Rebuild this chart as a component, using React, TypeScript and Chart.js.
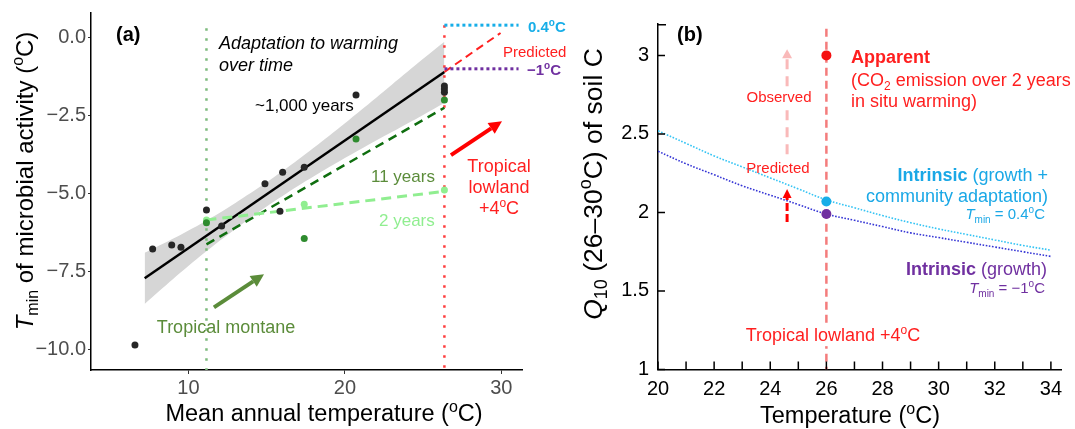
import React, { useEffect, useRef } from 'react';
import { Chart, registerables } from 'chart.js';
Chart.register(...registerables);

const FONT = "'Liberation Sans', Arial, Helvetica, sans-serif";

// ---------------- Panel (a) data ----------------
const aXTicks = [10, 20, 30];
const aYTicks = [-10, -7.5, -5, -2.5, 0];
const montaneMAT = 11.15;
const lowlandMAT = 26.36;
const kyrX = [6.58, 7.71, 8.93, 9.52, 11.15, 12.12, 14.89, 15.85, 16.02, 17.4, 20.71, 26.36, 26.36, 26.36];
const kyrY = [-9.86, -6.78, -6.65, -6.72, -5.53, -6.04, -4.69, -5.57, -4.32, -4.16, -1.84, -1.55, -1.65, -1.75];
const yr11X = [11.15, 17.4, 20.71, 26.36];
const yr11Y = [-5.94, -6.44, -3.25, -2.0];
const yr2X = [11.15, 17.4, 26.36];
const yr2Y = [-5.85, -5.34, -4.89];
const fitX = [7.2, 26.36];
const fitY = [-7.72, -1.1];
const bandX = [7.2, 9, 11, 13, 15, 17, 19, 21, 23, 25, 26.36];
const bandHi = [-6.9, -6.45, -5.91, -5.3, -4.64, -3.92, -3.15, -2.34, -1.51, -0.68, -0.13];
const bandLo = [-8.54, -7.75, -6.91, -6.14, -5.42, -4.76, -4.15, -3.58, -3.03, -2.48, -2.1];
const fit11X = [11.15, 26.36];
const fit11Y = [-6.63, -2.25];
const fit2X = [11.15, 26.36];
const fit2Y = [-5.85, -4.93];
const predX = [26.36, 29.95];
const predY = [-1.1, 0.15];
const tminAdapt = 0.4;
const tminGrowth = -1.0;
const tminLineX = [26.36, 31.1];
const montaneArrow = [[11.63, -8.65], [14.83, -7.59]];
const lowlandArrow = [[26.78, -3.77], [30.04, -2.68]];

// ---------------- Panel (b) data ----------------
const bTemps = [20, 21, 22, 23, 24, 25, 26, 27, 28, 29, 30, 31, 32, 33, 34];
const q10Adapt = [2.52, 2.44, 2.36, 2.29, 2.22, 2.15, 2.08, 2.03, 1.98, 1.935, 1.895, 1.86, 1.825, 1.79, 1.76];
const q10Growth = [2.39, 2.31, 2.24, 2.17, 2.11, 2.05, 1.99, 1.95, 1.91, 1.87, 1.84, 1.81, 1.78, 1.75, 1.72];
const bYTicks = [1, 1.5, 2, 2.5, 3];
const siteT = 26;
const q10Apparent = 3.0;
const q10IntrAdapt = 2.07;
const q10IntrGrowth = 1.99;
const arrowT = 24.6;
const predictedArrow = [1.94, 2.15];
const observedArrow = [2.37, 3.04];

// ---------------- colours ----------------
const BAND = '#d6d6d6';
const BLACKPT = '#262626';
const DKGREEN_PT = '#2e8b2e';
const DKGREEN_LINE = '#0f6e0f';
const LTGREEN = '#90ee90';
const OLIVE = '#5b8c3a';
const GREEN_VLINE = '#7dbb7d';
const RED = '#ff1f1f';
const CYAN = '#17aee8';
const PURPLE = '#7030a0';

type Seg = { t: string; b?: boolean; i?: boolean; sup?: boolean; sub?: boolean; c?: string };

function drawRich(ctx: CanvasRenderingContext2D, segs: Seg[], x: number, y: number, size: number, color: string, align: 'left' | 'center' | 'right', bg?: string) {
  const font = (s: Seg) => `${s.i ? 'italic ' : ''}${s.b ? 'bold ' : ''}${s.sup || s.sub ? Math.round(size * 0.68) : size}px ${FONT}`;
  let w = 0;
  const widths = segs.map((s) => {
    ctx.font = font(s);
    const m = ctx.measureText(s.t).width;
    w += m;
    return m;
  });
  let x0 = align === 'left' ? x : align === 'center' ? x - w / 2 : x - w;
  const base = y + size * 0.36;
  ctx.save();
  if (bg) {
    ctx.fillStyle = bg;
    ctx.fillRect(x0 - 3, y - size * 0.62, w + 6, size * 1.24);
  }
  ctx.textBaseline = 'alphabetic';
  ctx.textAlign = 'left';
  segs.forEach((s, k) => {
    ctx.font = font(s);
    ctx.fillStyle = s.c || color;
    const dy = s.sup ? -size * 0.4 : s.sub ? size * 0.22 : 0;
    ctx.fillText(s.t, x0, base + dy);
    x0 += widths[k];
  });
  ctx.restore();
}

function drawArrow(ctx: CanvasRenderingContext2D, x1: number, y1: number, x2: number, y2: number, color: string, lw: number, headL: number, headW: number, dash?: number[]) {
  const ang = Math.atan2(y2 - y1, x2 - x1);
  const bx = x2 - headL * Math.cos(ang);
  const by = y2 - headL * Math.sin(ang);
  ctx.save();
  ctx.strokeStyle = color;
  ctx.lineWidth = lw;
  ctx.setLineDash(dash || []);
  ctx.beginPath();
  ctx.moveTo(x1, y1);
  ctx.lineTo(bx, by);
  ctx.stroke();
  ctx.setLineDash([]);
  ctx.fillStyle = color;
  ctx.beginPath();
  ctx.moveTo(x2, y2);
  ctx.lineTo(bx + (headW / 2) * Math.sin(ang), by - (headW / 2) * Math.cos(ang));
  ctx.lineTo(bx - (headW / 2) * Math.sin(ang), by + (headW / 2) * Math.cos(ang));
  ctx.closePath();
  ctx.fill();
  ctx.restore();
}

const pts = (xs: number[], ys: number[]) => xs.map((x, i) => ({ x, y: ys[i] }));

function withOrder(list: any[]) {
  const n = list.length;
  return list.map((d, i) => ({ ...d, order: n - i }));
}

function configA(): any {
  const line = (data: any, color: string, width: number, dash: number[] = []) => ({
    data, borderColor: color, borderWidth: width, borderDash: dash, pointRadius: 0, fill: false, tension: 0,
  });
  const dots = (data: any, color: string, r: number) => ({
    data, showLine: false, pointRadius: r, pointBackgroundColor: color, pointBorderWidth: 0, pointBorderColor: color,
  });
  const datasets = withOrder([
    { data: pts(bandX, bandHi), borderColor: 'rgba(0,0,0,0)', borderWidth: 0, pointRadius: 0, fill: false, backgroundColor: BAND, tension: 0.3 },
    { data: pts(bandX, bandLo), borderColor: 'rgba(0,0,0,0)', borderWidth: 0, pointRadius: 0, fill: '-1', backgroundColor: BAND, tension: 0.3 },
    line([{ x: montaneMAT, y: 0.3 }, { x: montaneMAT, y: -10.66 }], GREEN_VLINE, 2.5, [2.5, 7.5]),
    line([{ x: lowlandMAT, y: tminAdapt }, { x: lowlandMAT, y: -10.66 }], '#ff3c3c', 2.5, [2.5, 7.5]),
    line(pts(fitX, fitY), '#000', 2.5),
    line(pts(fit11X, fit11Y), DKGREEN_LINE, 2.5, [9, 6]),
    line(pts(fit2X, fit2Y), LTGREEN, 3, [10, 6]),
    line(pts(predX, predY), RED, 2, [8, 5]),
    line(tminLineX.map((x) => ({ x, y: tminAdapt })), CYAN, 3, [3, 3]),
    line(tminLineX.map((x) => ({ x, y: tminGrowth })), PURPLE, 3, [3, 3]),
    dots(pts(yr2X, yr2Y), LTGREEN, 3.5),
    dots(pts(yr11X, yr11Y), DKGREEN_PT, 3.5),
    dots(pts(kyrX, kyrY), BLACKPT, 3.5),
  ]);

  const plugin = {
    id: 'decorA',
    afterDatasetsDraw(chart: any) {
      const { ctx, scales } = chart;
      const X = (v: number) => scales.x.getPixelForValue(v);
      const Y = (v: number) => scales.y.getPixelForValue(v);
      drawArrow(ctx, X(montaneArrow[0][0]), Y(montaneArrow[0][1]), X(montaneArrow[1][0]), Y(montaneArrow[1][1]), OLIVE, 4, 13, 13);
      drawArrow(ctx, X(lowlandArrow[0][0]), Y(lowlandArrow[0][1]), X(lowlandArrow[1][0]), Y(lowlandArrow[1][1]), '#ff0000', 4, 13, 13);
    },
    afterDraw(chart: any) {
      const { ctx } = chart;
      drawRich(ctx, [{ t: '(a)', b: true }], 116, 34, 20, '#000', 'left');
      drawRich(ctx, [{ t: 'Adaptation to warming', i: true }], 219, 43, 18, '#000', 'left');
      drawRich(ctx, [{ t: 'over time', i: true }], 219, 65, 18, '#000', 'left');
      drawRich(ctx, [{ t: '~1,000 years' }], 255, 105, 17, '#000', 'left');
      drawRich(ctx, [{ t: '11 years' }], 371, 176, 17, OLIVE, 'left');
      drawRich(ctx, [{ t: '2 years' }], 379, 220, 17, LTGREEN, 'left');
      drawRich(ctx, [{ t: 'Tropical montane' }], 226, 327, 18, OLIVE, 'center');
      drawRich(ctx, [{ t: 'Tropical' }], 499, 166, 18, RED, 'center');
      drawRich(ctx, [{ t: 'lowland' }], 499, 187, 18, RED, 'center');
      drawRich(ctx, [{ t: '+4' }, { t: 'o', sup: true }, { t: 'C' }], 499, 208, 18, RED, 'center');
      drawRich(ctx, [{ t: '0.4', b: true }, { t: 'o', b: true, sup: true }, { t: 'C', b: true }], 528, 27, 15, CYAN, 'left');
      drawRich(ctx, [{ t: 'Predicted' }], 503, 52, 15, RED, 'left');
      drawRich(ctx, [{ t: '\u22121', b: true }, { t: 'o', b: true, sup: true }, { t: 'C', b: true }], 527, 70, 15, PURPLE, 'left');
      drawRich(ctx, [{ t: 'Mean annual temperature (' }, { t: 'o', sup: true }, { t: 'C)' }], 324, 413, 23.5, '#000', 'center');
      ctx.save();
      ctx.translate(24, 181);
      ctx.rotate(-Math.PI / 2);
      drawRich(ctx, [{ t: 'T', i: true }, { t: 'min', sub: true }, { t: ' of microbial activity (' }, { t: 'o', sup: true }, { t: 'C)' }], 0, 0, 24, '#000', 'center');
      ctx.restore();
    },
  };

  return {
    type: 'line',
    data: { datasets },
    plugins: [plugin],
    options: {
      responsive: false,
      animation: false,
      layout: { padding: { left: 0, top: 13, right: 58, bottom: 0 } },
      plugins: { legend: { display: false }, tooltip: { enabled: false } },
      scales: {
        x: {
          type: 'linear', min: 3.77, max: 31.32,
          afterBuildTicks: (s: any) => { s.ticks = aXTicks.map((v) => ({ value: v })); },
          afterFit: (s: any) => { s.height = 59; s.paddingLeft = 0; s.paddingRight = 0; },
          grid: { display: true, drawOnChartArea: false, drawTicks: true, tickLength: 4, tickColor: '#333', tickWidth: 1 },
          border: { display: true, color: '#000', width: 1.5 },
          ticks: { font: { family: FONT, size: 20 }, color: '#4d4d4d', padding: 2, maxRotation: 0, autoSkip: false, callback: (v: number) => String(v) },
        },
        y: {
          type: 'linear', min: -10.66, max: 0.79,
          afterBuildTicks: (s: any) => { s.ticks = aYTicks.map((v) => ({ value: v })); },
          afterFit: (s: any) => { s.width = 91; s.paddingTop = 0; s.paddingBottom = 0; },
          grid: { display: true, drawOnChartArea: false, drawTicks: true, tickLength: 3, tickColor: '#333', tickWidth: 1 },
          border: { display: true, color: '#000', width: 1.5 },
          ticks: { font: { family: FONT, size: 20 }, color: '#4d4d4d', padding: 2, autoSkip: false, callback: (v: number) => v.toFixed(1).replace('-', '\u2212') },
        },
      },
    },
  };
}

function configB(): any {
  const datasets = withOrder([
    { data: [{ x: siteT, y: 3.17 }, { x: siteT, y: 1 }], borderColor: '#f47c7c', borderWidth: 2.5, borderDash: [8, 5], pointRadius: 0, fill: false },
    { data: pts(bTemps, q10Adapt), borderColor: '#35c4f4', borderWidth: 1.6, borderDash: [1.6, 1.6], pointRadius: 0, fill: false, tension: 0.4 },
    { data: pts(bTemps, q10Growth), borderColor: '#3535d5', borderWidth: 1.6, borderDash: [1.6, 1.6], pointRadius: 0, fill: false, tension: 0.4 },
    { data: [{ x: siteT, y: q10IntrAdapt }], showLine: false, pointRadius: 5, pointBackgroundColor: CYAN, pointBorderWidth: 0 },
    { data: [{ x: siteT, y: q10IntrGrowth }], showLine: false, pointRadius: 5, pointBackgroundColor: PURPLE, pointBorderWidth: 0 },
    { data: [{ x: siteT, y: q10Apparent }], showLine: false, pointRadius: 5, pointBackgroundColor: '#f51010', pointBorderWidth: 0 },
  ]);

  const plugin = {
    id: 'decorB',
    afterDatasetsDraw(chart: any) {
      const { ctx, scales } = chart;
      const X = (v: number) => scales.x.getPixelForValue(v);
      const Y = (v: number) => scales.y.getPixelForValue(v);
      drawArrow(ctx, X(arrowT), Y(observedArrow[0]), X(arrowT), Y(observedArrow[1]), '#f9b9b9', 3, 9, 10, [10, 7]);
      drawArrow(ctx, X(arrowT), Y(predictedArrow[0]), X(arrowT), Y(predictedArrow[1]), '#ff0000', 3, 9, 9, [8, 3]);
    },
    afterDraw(chart: any) {
      const { ctx, scales, chartArea } = chart;
      const X = (v: number) => scales.x.getPixelForValue(v);
      const Y = (v: number) => scales.y.getPixelForValue(v);
      ctx.save();
      ctx.strokeStyle = '#000';
      ctx.lineWidth = 1.5;
      ctx.beginPath();
      bYTicks.forEach((v) => { ctx.moveTo(chartArea.left, Y(v)); ctx.lineTo(chartArea.left + 7, Y(v)); });
      ctx.moveTo(chartArea.left, chartArea.top + 0.75); ctx.lineTo(chartArea.left + 8, chartArea.top + 0.75);
      bTemps.forEach((v) => { ctx.moveTo(X(v), chartArea.bottom); ctx.lineTo(X(v), chartArea.bottom - 8); });
      ctx.stroke();
      ctx.restore();
      const ox = 580;
      drawRich(ctx, [{ t: '(b)', b: true }], 677 - ox, 34, 20, '#000', 'left');
      drawRich(ctx, [{ t: 'Apparent', b: true }], 851 - ox, 57, 18, RED, 'left');
      drawRich(ctx, [{ t: '(CO' }, { t: '2', sub: true }, { t: ' emission over 2 years' }], 851 - ox, 80, 18, RED, 'left');
      drawRich(ctx, [{ t: 'in situ warming)' }], 851 - ox, 101, 18, RED, 'left');
      drawRich(ctx, [{ t: 'Intrinsic', b: true }, { t: ' (growth +' }], 1048 - ox, 175, 18, '#1aa8e6', 'right');
      drawRich(ctx, [{ t: 'community adaptation)' }], 1048 - ox, 196, 18, '#1aa8e6', 'right');
      drawRich(ctx, [{ t: 'T', i: true }, { t: 'min', sub: true }, { t: ' = 0.4' }, { t: 'o', sup: true }, { t: 'C' }], 1045 - ox, 214, 15, '#1aa8e6', 'right');
      drawRich(ctx, [{ t: 'Intrinsic', b: true }, { t: ' (growth)' }], 1047 - ox, 269, 18, PURPLE, 'right');
      drawRich(ctx, [{ t: 'T', i: true }, { t: 'min', sub: true }, { t: ' = \u22121' }, { t: 'o', sup: true }, { t: 'C' }], 1045 - ox, 288, 15, PURPLE, 'right');
      drawRich(ctx, [{ t: 'Tropical lowland +4' }, { t: 'o', sup: true }, { t: 'C' }], 833 - ox, 335, 18, RED, 'center', '#fff');
      drawRich(ctx, [{ t: 'Observed' }], 779 - ox, 97, 15, RED, 'center', '#fff');
      drawRich(ctx, [{ t: 'Predicted' }], 778 - ox, 168, 15, RED, 'center');
      drawRich(ctx, [{ t: 'Temperature (' }, { t: 'o', sup: true }, { t: 'C)' }], 850 - ox, 415, 23.5, '#000', 'center');
      ctx.save();
      ctx.translate(592 - ox, 184);
      ctx.rotate(-Math.PI / 2);
      drawRich(ctx, [{ t: 'Q', i: true }, { t: '10', sub: true }, { t: ' (26\u201330' }, { t: 'o', sup: true }, { t: 'C) of soil C' }], 0, 0, 26.5, '#000', 'center');
      ctx.restore();
    },
  };

  return {
    type: 'line',
    data: { datasets },
    plugins: [plugin],
    options: {
      responsive: false,
      animation: false,
      layout: { padding: { left: 0, top: 24, right: 14, bottom: 0 } },
      plugins: { legend: { display: false }, tooltip: { enabled: false } },
      scales: {
        x: {
          type: 'linear', min: 20, max: 34.36,
          afterBuildTicks: (s: any) => { s.ticks = bTemps.map((v) => ({ value: v })); },
          afterFit: (s: any) => { s.height = 59.5; s.paddingLeft = 0; s.paddingRight = 0; },
          grid: { display: false, drawTicks: false },
          border: { display: true, color: '#000', width: 1.5 },
          ticks: { font: { family: FONT, size: 20 }, color: '#000', padding: 8, maxRotation: 0, autoSkip: false, callback: (v: number) => (v % 2 === 0 ? String(v) : '') },
        },
        y: {
          type: 'linear', min: 1, max: 3.2,
          afterBuildTicks: (s: any) => { s.ticks = bYTicks.map((v) => ({ value: v })); },
          afterFit: (s: any) => { s.width = 78; s.paddingTop = 0; s.paddingBottom = 0; },
          grid: { display: false, drawTicks: false },
          border: { display: true, color: '#000', width: 1.5 },
          ticks: { font: { family: FONT, size: 20 }, color: '#000', padding: 9, autoSkip: false, callback: (v: number) => String(v) },
        },
      },
    },
  };
}

export default function App() {
  const refA = useRef<HTMLCanvasElement>(null);
  const refB = useRef<HTMLCanvasElement>(null);
  useEffect(() => {
    const a = new Chart(refA.current as HTMLCanvasElement, configA());
    const b = new Chart(refB.current as HTMLCanvasElement, configB());
    return () => {
      a.destroy();
      b.destroy();
    };
  }, []);
  return (
    <div style={{ position: 'fixed', left: 0, top: 0, width: 1075, height: 429, background: '#fff' }}>
      <canvas ref={refA} width={580} height={429} style={{ position: 'absolute', left: 0, top: 0, width: 580, height: 429 }} />
      <canvas ref={refB} width={495} height={429} style={{ position: 'absolute', left: 580, top: 0, width: 495, height: 429 }} />
    </div>
  );
}
